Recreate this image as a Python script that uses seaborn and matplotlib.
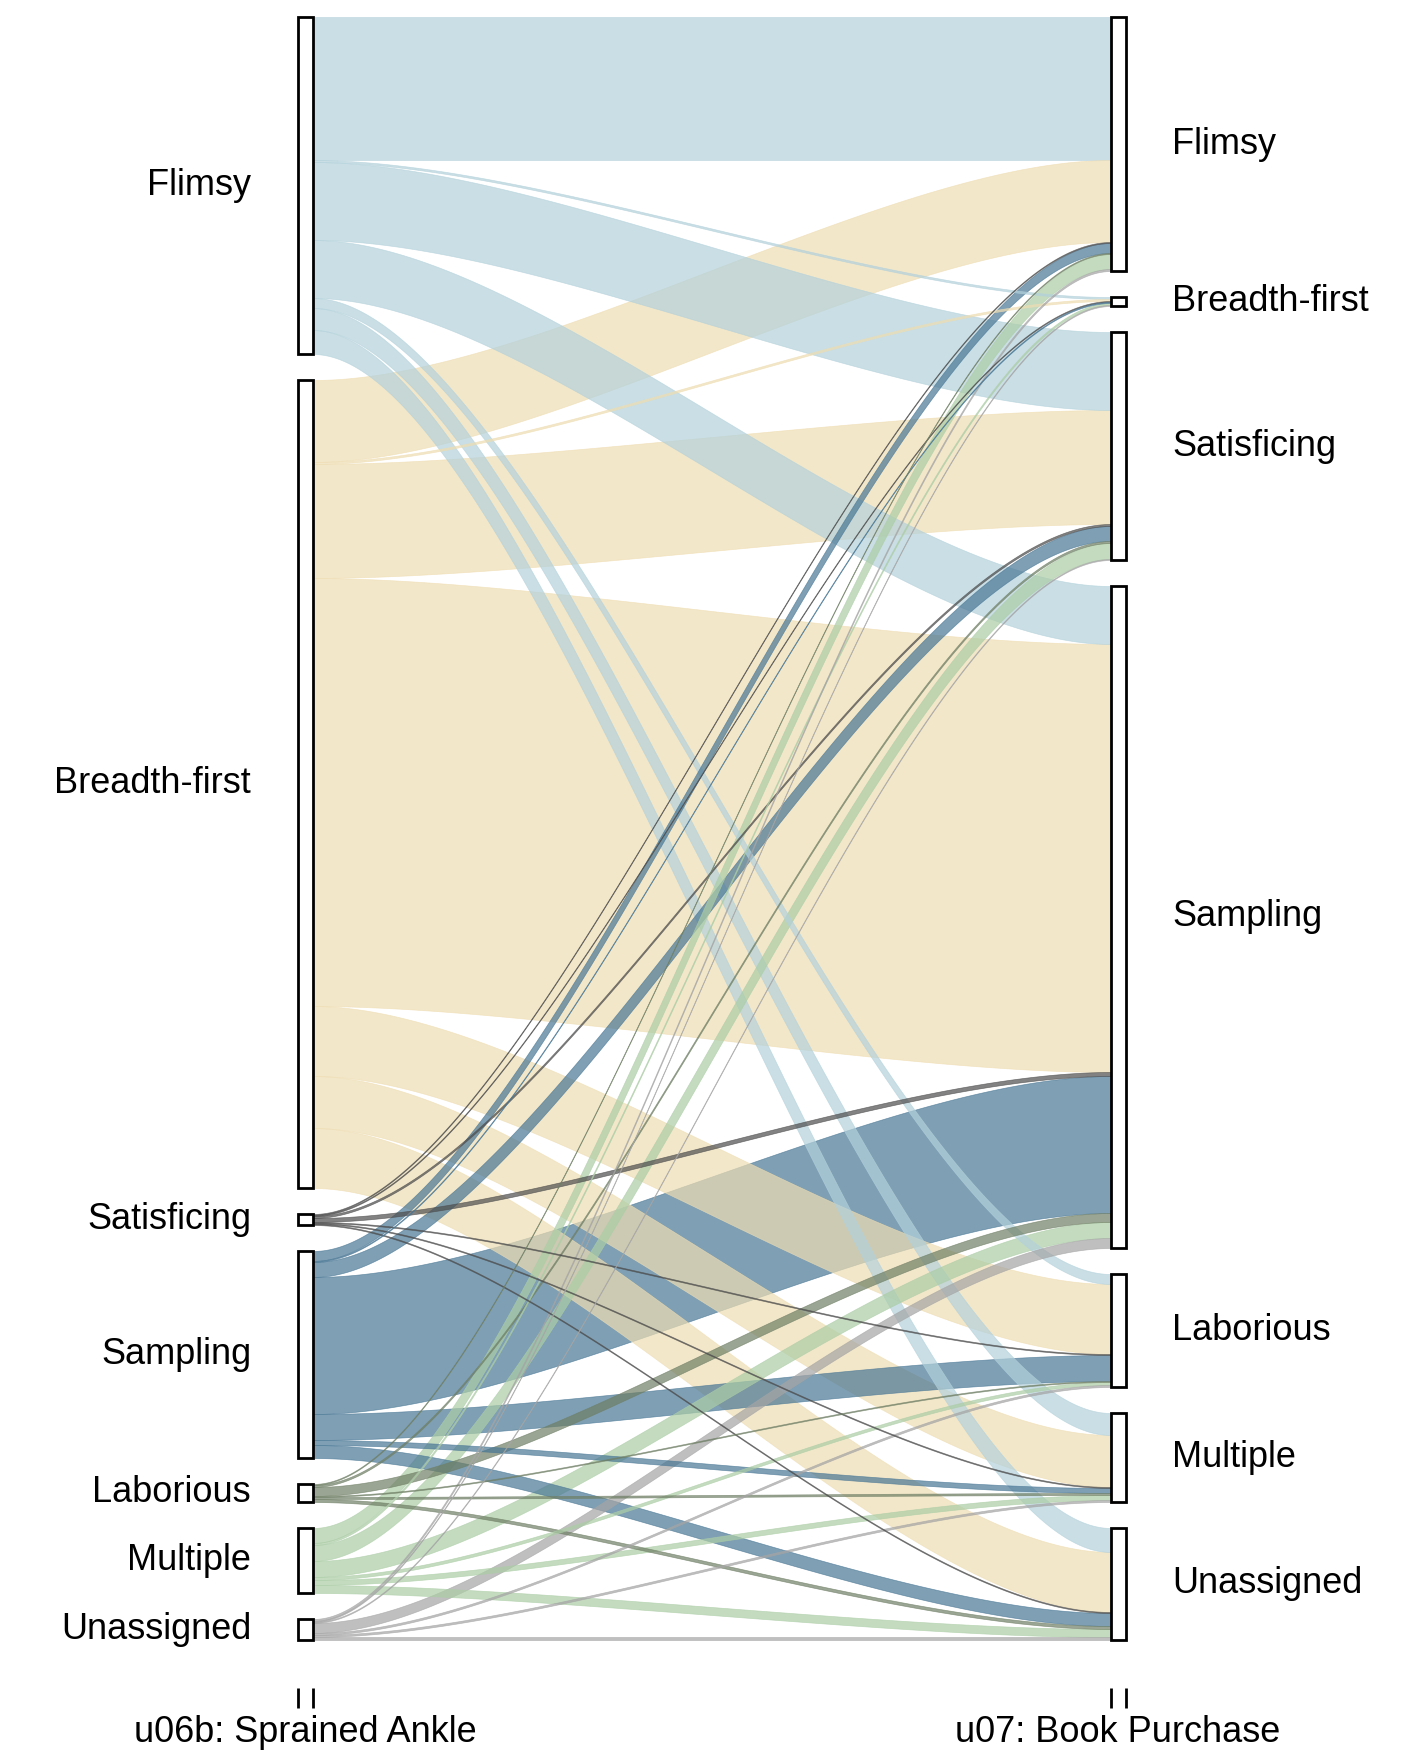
import numpy as np
import matplotlib
matplotlib.use("Agg")
import matplotlib.pyplot as plt
import seaborn as sns
from matplotlib.patches import Rectangle

# ---------------- data ----------------
categories = ["Flimsy", "Breadth-first", "Satisficing", "Sampling",
              "Laborious", "Multiple", "Unassigned"]
axis_labels = ["u06b: Sprained Ankle", "u07: Book Purchase"]

# flow sizes from each u06b category to each u07 category (same order as categories)
from_flimsy      = [143, 2, 78, 58, 10, 22, 24]
from_breadth     = [82, 2, 114, 428, 70, 52, 60]
from_satisficing = [1, 1, 2, 4, 1, 1, 1]
from_sampling    = [10, 1, 15, 137, 26, 5, 13]
from_laborious   = [1, 0, 2, 9, 1, 2, 3]
from_multiple    = [15, 2, 16, 16, 3, 5, 8]
from_unassigned  = [2, 1, 1, 10, 2, 2, 3]

flow_colors = ["#b3d1db", "#eeddb2", "#4d4d4d", "#487694",
               "#6f7f65", "#accda6", "#a5a5a5"]

# ---------------- style ----------------
sns.set_theme(style="white")
plt.rcParams["font.family"] = ["Liberation Sans", "DejaVu Sans"]
palette = sns.color_palette(flow_colors)

flows = np.array([from_flimsy, from_breadth, from_satisficing, from_sampling,
                  from_laborious, from_multiple, from_unassigned], dtype=float)
n = len(categories)
gap = 26.0
box_w = 15 / 812.5
alpha = 0.7

left_tot = flows.sum(axis=1)
right_tot = flows.sum(axis=0)

def stack(tot):
    tops = []
    y = 0.0
    for t in tot:
        tops.append(y)
        y += t + gap
    return np.array(tops), y - gap

left_top, total_h = stack(left_tot)
right_top, _ = stack(right_tot)

fig = plt.figure(figsize=(14.17, 17.55), dpi=100)
ax = fig.add_axes([0, 0, 1, 1])
xmin = 1 - 305.5 / 812.5
ax.set_xlim(xmin, xmin + 1417 / 812.5)
ax.set_ylim(1755 - 17, -17)
ax.axis("off")

xl = 1 + box_w / 2
xr = 2 - box_w / 2
t = np.linspace(0, 1, 200)
c = 0.28
b0 = (1 - t) ** 3
b1 = 3 * t * (1 - t) ** 2
b2 = 3 * t ** 2 * (1 - t)
b3 = t ** 3
xs = b0 * xl + b1 * (xl + c * (xr - xl)) + b2 * (xr - c * (xr - xl)) + b3 * xr

# positions of lodes
left_off = np.zeros((n, n))
right_off = np.zeros((n, n))
for i in range(n):
    y = left_top[i]
    for j in range(n):
        left_off[i, j] = y
        y += flows[i, j]
for j in range(n):
    y = right_top[j]
    for i in range(n):
        right_off[i, j] = y
        y += flows[i, j]

# larger flows drawn first, thin strands on top
pairs = [(i, j) for i in range(n) for j in range(n) if flows[i, j] > 0]
pairs.sort(key=lambda p: -flows[p])
for i, j in pairs:
    w = flows[i, j]
    a = left_off[i, j]
    b = right_off[i, j]
    top = (b0 + b1) * a + (b2 + b3) * b
    bot = top + w
    col = palette[i]
    ax.fill_between(xs, top, bot, color=col, alpha=alpha, lw=0.5,
                    edgecolor=col)

# strata boxes
for k in range(n):
    for xc, tops, tots in ((1, left_top, left_tot), (2, right_top, right_tot)):
        ax.add_patch(Rectangle((xc - box_w / 2, tops[k]), box_w, tots[k],
                               facecolor="white", edgecolor="black", lw=2.0,
                               zorder=5))

# labels
fs = 26
for k, name in enumerate(categories):
    ax.text(1 - 0.067, left_top[k] + left_tot[k] / 2, name, ha="right",
            va="center", fontsize=fs, color="black")
    ax.text(2 + 0.0665, right_top[k] + right_tot[k] / 2, name, ha="left",
            va="center", fontsize=fs, color="black")

# axis ticks and labels
for xc, lab in zip([1, 2], axis_labels):
    for dx in (-box_w / 2, box_w / 2):
        ax.plot([xc + dx, xc + dx], [total_h + 48, total_h + 68], color="black",
                lw=2.0, solid_capstyle="butt")
    ax.text(xc, total_h + 93, lab, ha="center", va="center", fontsize=fs,
            color="black")

fig.savefig("out.png", dpi=100, facecolor="white")
